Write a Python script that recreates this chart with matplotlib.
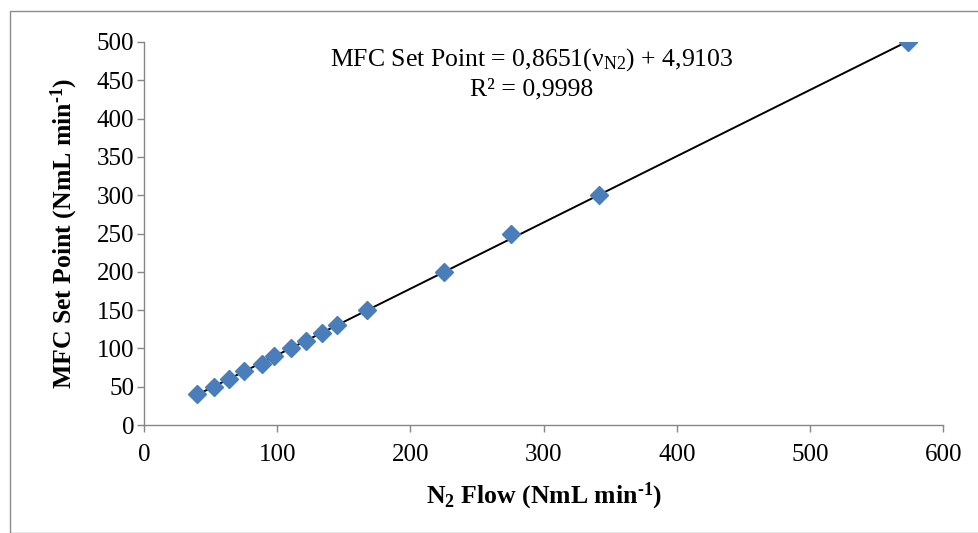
import matplotlib
matplotlib.use("Agg")
import matplotlib.pyplot as plt
from matplotlib.patches import Rectangle

plt.rcParams["font.family"] = ["Liberation Serif", "DejaVu Serif"]
plt.rcParams["mathtext.fontset"] = "custom"
plt.rcParams["mathtext.rm"] = "Liberation Serif"
plt.rcParams["mathtext.it"] = "Liberation Serif:italic"
plt.rcParams["mathtext.bf"] = "Liberation Serif:bold"

# Calibration data: measured N2 flow vs. MFC set point
n2_flow = [40.0, 52.5, 63.6, 75.1, 88.4, 97.6, 110.1, 121.4, 133.4, 145.1,
           167.2, 225.4, 275.5, 341.8, 573.5]
set_point = [40, 50, 60, 70, 80, 90, 100, 110, 120, 130, 150, 200, 250, 300, 500]

# Linear fit reported on the chart
slope = 0.8651
intercept = 4.9103
r_squared = "0,9998"

x_ticks = [0, 100, 200, 300, 400, 500, 600]
y_ticks = [0, 50, 100, 150, 200, 250, 300, 350, 400, 450, 500]

W, H = 979, 533
fig = plt.figure(figsize=(W / 100, H / 100), dpi=100)
fig.patch.set_facecolor("white")

# Chart-area border
fig.patches.append(Rectangle((10 / W, 0), 2.0, 1 - 11 / H, transform=fig.transFigure,
                             fill=False, edgecolor="#8c8c8c", linewidth=1.0))

left, right = 144 / W, 943.3 / W
bottom, top = 1 - 425 / H, 1 - 42 / H
ax = fig.add_axes([left, bottom, right - left, top - bottom])

fit_x = [min(n2_flow), max(n2_flow)]
fit_y = [slope * v + intercept for v in fit_x]
ax.plot(fit_x, fit_y, color="black", linewidth=1.4, zorder=2)
ax.plot(n2_flow, set_point, linestyle="none", marker="D", markersize=9.5,
        color="#4a7ebb", markeredgecolor="#4a7ebb", zorder=3)

ax.set_xlim(0, 600)
ax.set_ylim(0, 500)
ax.set_xticks(x_ticks)
ax.set_yticks(y_ticks)

axis_grey = "#868686"
for s in ("top", "right"):
    ax.spines[s].set_visible(False)
for s in ("left", "bottom"):
    ax.spines[s].set_color(axis_grey)
    ax.spines[s].set_linewidth(1.0)
ax.tick_params(axis="both", direction="out", length=5, width=1.0, color=axis_grey,
               labelsize=18, labelcolor="black")
ax.tick_params(axis="x", pad=9)
ax.tick_params(axis="y", pad=2)

ax.set_xlabel("N$_\\mathbf{2}$ Flow (NmL min$^{\\mathbf{\u2010}\\mathbf{1}}$)", fontsize=18.5,
              fontweight="bold", labelpad=10)
ax.set_ylabel("MFC Set Point (NmL min$^{\\mathbf{\u2010}\\mathbf{1}}$)", fontsize=18.5,
              fontweight="bold", labelpad=12)

ax.text(532 / W, 1 - 60 / H,
        "MFC Set Point = %s(ν$_{\\mathrm{N2}}$) + %s" % (f"{slope:.4f}".replace(".", ","),
                                                     f"{intercept:.4f}".replace(".", ",")),
        transform=fig.transFigure, ha="center", va="center", fontsize=18.5)
ax.text(532 / W, 1 - 89 / H, "R² = " + r_squared,
        transform=fig.transFigure, ha="center", va="center", fontsize=18.5)

fig.savefig("out.png", dpi=100, facecolor="white")
